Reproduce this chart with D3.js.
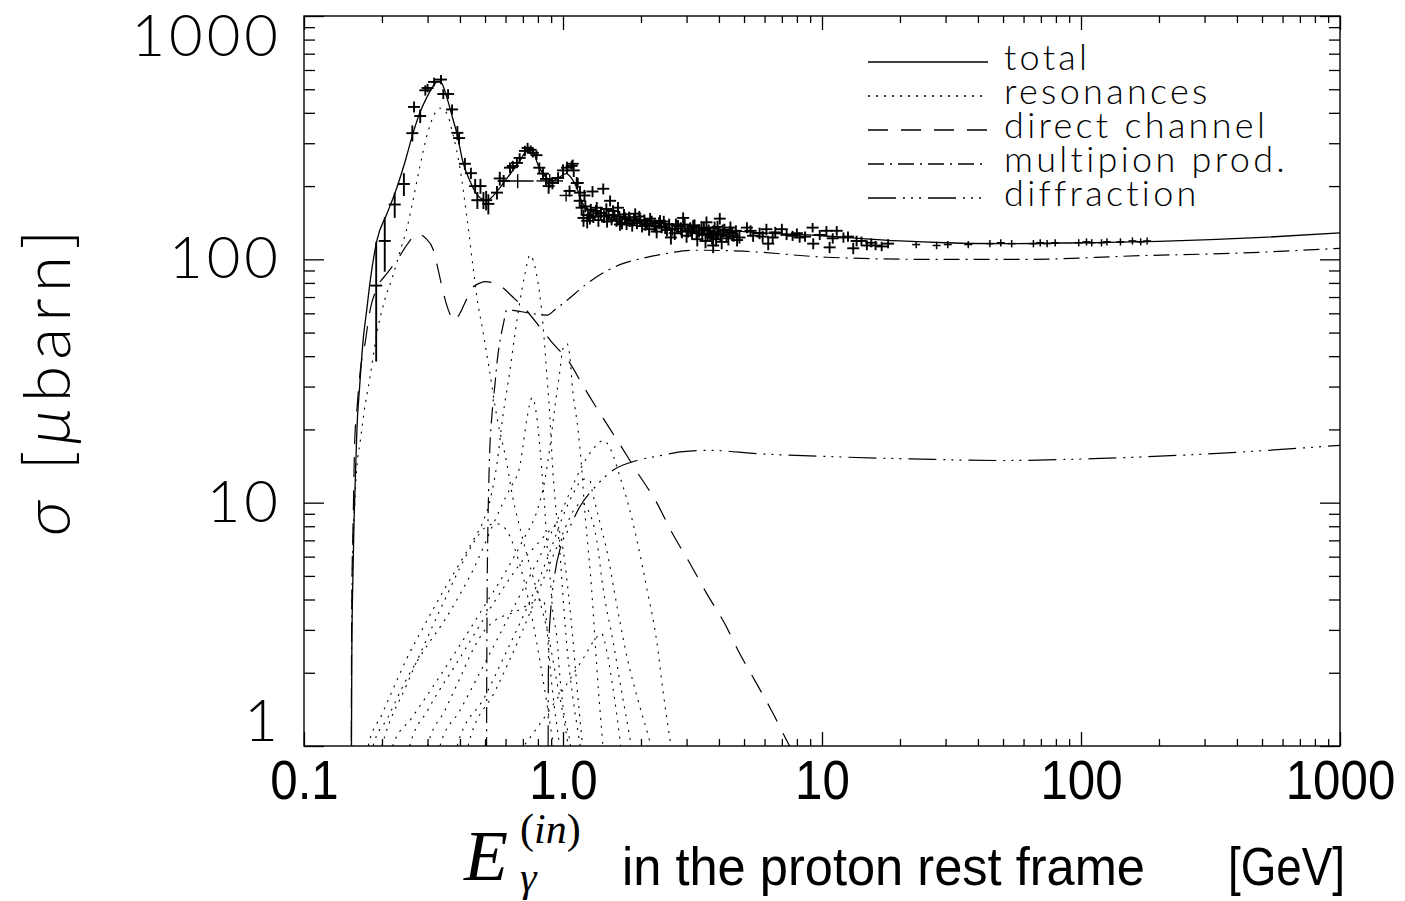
<!DOCTYPE html>
<html>
<head>
<meta charset="utf-8">
<script src="https://cdn.jsdelivr.net/npm/d3@7"></script>
<style>
  body { margin: 0; background: #fff; }
  svg { display: block; }
</style>
</head>
<body>
<svg></svg>
<script>
const width = 1405;
const height = 901;
const plot = {left: 304, right: 1340, top: 16, bottom: 746};

// axis ticks
const xTickValues = [0.1, 1, 10, 100, 1000];
const xTickLabels = ["0.1", "1.0", "10", "100", "1000"];
const yTickValues = [1, 10, 100, 1000];
const yTickLabels = ["1", "10", "100", "1000"];

const legendNames = ["total", "resonances", "direct channel", "multipion prod.", "diffraction"];

// model curves: [E_gamma (GeV), sigma (microbarn)]
const totalCurve = [
    [0.1521, 0.3], [0.1525, 1], [0.153, 2.5], [0.1545, 5], [0.156, 8.3], [0.158, 13], [0.160, 19.8],
    [0.164, 30], [0.169, 46], [0.175, 63], [0.180, 81], [0.191, 119], [0.209, 154], [0.224, 186],
    [0.245, 250], [0.263, 327], [0.280, 400], [0.298, 463], [0.320, 527], [0.330, 540], [0.340, 530],
    [0.356, 463], [0.375, 380], [0.390, 327], [0.410, 253], [0.437, 210], [0.478, 179], [0.510, 175],
    [0.556, 190], [0.607, 215], [0.680, 253], [0.730, 282], [0.760, 283], [0.800, 245], [0.870, 215],
    [0.910, 210], [0.970, 218], [1.030, 225], [1.080, 215], [1.130, 197], [1.190, 170], [1.300, 156],
    [1.5, 149], [2.0, 144], [3.0, 137], [5.0, 130], [10, 125], [20, 119], [30, 117], [50, 116],
    [100, 117], [200, 118.5], [500, 123], [1000, 128.5]
];

const directCurve = [
    [0.1521, 0.3], [0.1525, 2], [0.153, 4], [0.155, 9], [0.157, 18], [0.160, 24], [0.165, 35],
    [0.172, 45], [0.180, 62], [0.190, 75], [0.210, 88], [0.230, 100], [0.250, 115], [0.275, 127],
    [0.295, 122], [0.315, 110], [0.330, 90], [0.345, 73], [0.365, 60], [0.380, 56], [0.400, 60],
    [0.420, 67], [0.445, 76], [0.480, 80], [0.500, 81], [0.540, 80], [0.570, 78], [0.640, 70],
    [0.710, 63], [0.810, 53], [0.900, 46], [1.06, 37.6], [1.2, 30], [1.4, 23], [1.65, 17.5],
    [1.93, 13.4], [2.3, 10], [2.64, 7.5], [3.1, 5.6], [3.58, 4.25], [4.2, 3.2], [4.81, 2.4],
    [5.6, 1.8], [6.45, 1.37], [7.5, 1.0], [8.5, 0.8]
];

const multipionCurve = [
    [0.5065, 0.3], [0.507, 1], [0.509, 3.5], [0.512, 7], [0.516, 11], [0.522, 17], [0.530, 22],
    [0.545, 30], [0.560, 40], [0.575, 48], [0.590, 55], [0.607, 62], [0.650, 61.6], [0.750, 60],
    [0.870, 59], [0.930, 62], [1.03, 67.5], [1.23, 79], [1.43, 88], [1.70, 96], [2.03, 101],
    [2.43, 105], [3.17, 109], [4.95, 108], [10.4, 102], [25.4, 100], [63, 100], [168, 103.5],
    [400, 106], [1000, 111]
];

const diffractionCurve = [
    [0.874, 0.3], [0.876, 1], [0.880, 2.5], [0.900, 3.8], [0.930, 5.1], [0.980, 6.6], [1.06, 7.9],
    [1.16, 9.6], [1.35, 11.8], [1.56, 13.6], [1.93, 14.9], [2.37, 15.6], [2.91, 16.2], [3.7, 16.4],
    [5.6, 15.9], [10, 15.5], [24, 15.1], [48, 14.9], [119, 15.2], [287, 15.8], [1000, 17.2]
];

// single resonances
const resP33_1232 = [
    [0.1522, 0.3], [0.1528, 3], [0.154, 6], [0.157, 10], [0.160, 14], [0.165, 18], [0.170, 23],
    [0.180, 33], [0.190, 48], [0.205, 68], [0.220, 85], [0.235, 108], [0.250, 135], [0.265, 180],
    [0.280, 240], [0.300, 330], [0.320, 398], [0.335, 418], [0.355, 400], [0.375, 330], [0.400, 238],
    [0.425, 150], [0.450, 92], [0.465, 70], [0.490, 51], [0.520, 35], [0.556, 22.4], [0.607, 14.5],
    [0.640, 10.5], [0.690, 7.5], [0.760, 5.1], [0.800, 4.2], [0.880, 2.8], [0.950, 1.8], [1.02, 1.2],
    [1.08, 0.8]
];
const resD13_1520 = [
    [0.172, 0.8], [0.177, 1], [0.200, 1.35], [0.220, 1.7], [0.250, 2.3], [0.290, 3.1], [0.335, 4.1],
    [0.390, 5.4], [0.450, 7.0], [0.490, 8.3], [0.520, 10], [0.556, 14.5], [0.585, 22.4], [0.624, 35],
    [0.650, 48], [0.680, 66], [0.713, 87], [0.745, 104], [0.790, 87], [0.837, 54], [0.860, 37],
    [0.890, 22.4], [0.910, 14.5], [0.950, 8.2], [0.970, 6.5], [1.00, 4.1], [1.036, 2.55], [1.09, 1.6],
    [1.16, 1.03], [1.20, 0.8]
];
const resS11_1535 = [
    [0.180, 0.8], [0.185, 1], [0.210, 1.3], [0.250, 1.9], [0.300, 2.6], [0.350, 3.3], [0.400, 4.2],
    [0.450, 5.3], [0.500, 6.8], [0.550, 8.6], [0.600, 10.5], [0.640, 12], [0.680, 14], [0.700, 17],
    [0.725, 22], [0.760, 27], [0.790, 23], [0.810, 18], [0.830, 13.2], [0.850, 9.6], [0.865, 7],
    [0.890, 5.1], [0.910, 3.7], [0.950, 2.7], [0.970, 2.0], [1.00, 1.45], [1.06, 1.06], [1.10, 0.8]
];
const resF15_1680 = [
    [0.210, 0.8], [0.220, 1], [0.260, 1.3], [0.320, 1.8], [0.400, 2.6], [0.500, 3.8], [0.600, 5.2],
    [0.700, 7], [0.800, 9.5], [0.850, 12.3], [0.890, 16.9], [0.930, 24.6], [0.970, 34], [1.00, 43],
    [1.036, 45], [1.06, 41], [1.09, 29], [1.14, 20.4], [1.18, 14], [1.21, 9.6], [1.25, 6.5],
    [1.29, 4.4], [1.33, 2.7], [1.37, 1.7], [1.42, 1.06], [1.45, 0.8]
];
const resP11_1440 = [
    [0.190, 0.8], [0.200, 1], [0.250, 1.8], [0.300, 2.8], [0.350, 4.0], [0.400, 5.4], [0.450, 6.8],
    [0.500, 7.9], [0.550, 8.2], [0.600, 7.8], [0.650, 6.5], [0.700, 5.0], [0.750, 3.6], [0.800, 2.5],
    [0.850, 1.7], [0.900, 1.15], [0.950, 0.8]
];
const resS11_1650 = [
    [0.245, 0.8], [0.256, 1], [0.300, 1.4], [0.400, 2.3], [0.500, 3.4], [0.600, 4.6], [0.700, 5.8],
    [0.800, 6.8], [0.880, 7.6], [0.930, 8.0], [0.970, 7.6], [1.01, 6], [1.05, 4.2], [1.09, 2.8],
    [1.13, 1.8], [1.18, 1.1], [1.22, 0.8]
];
const resD33_1700 = [
    [0.290, 0.8], [0.300, 1], [0.350, 1.4], [0.400, 1.9], [0.450, 2.5], [0.500, 3.0], [0.550, 3.3],
    [0.600, 3.45], [0.650, 3.55], [0.700, 3.7], [0.750, 3.85], [0.800, 3.95], [0.840, 4.0], [0.860, 3.4],
    [0.880, 2.5], [0.900, 1.9], [0.930, 1.4], [0.970, 1.0], [1.00, 0.75]
];
const resD15_1675 = [
    [0.380, 0.8], [0.390, 1], [0.500, 1.6], [0.600, 2.4], [0.700, 3.4], [0.800, 4.7], [0.900, 6.5],
    [1.00, 8.8], [1.10, 11], [1.20, 12.5], [1.27, 12.3], [1.30, 11], [1.40, 8], [1.47, 6.5],
    [1.62, 3.7], [1.77, 2.3], [1.98, 1.45], [2.14, 1.09], [2.30, 0.8]
];
const resP13_1720 = [
    [0.420, 0.8], [0.430, 1], [0.550, 1.7], [0.700, 3], [0.850, 5], [1.00, 7.5], [1.10, 9.3],
    [1.18, 10], [1.23, 9.6], [1.35, 7.0], [1.43, 4.4], [1.56, 2.7], [1.68, 1.7], [1.81, 1.09],
    [1.90, 0.8]
];
const resF35_1905 = [
    [0.600, 0.8], [0.800, 1.2], [1.00, 1.7], [1.20, 2.3], [1.35, 2.8], [1.41, 2.9], [1.47, 2.5],
    [1.55, 1.8], [1.62, 1.3], [1.68, 0.95], [1.72, 0.8]
];
const resF37_1950 = [
    [0.330, 0.8], [0.335, 1], [0.400, 1.4], [0.500, 2.2], [0.600, 3.2], [0.700, 4.4], [0.800, 5.8],
    [0.900, 7.5], [1.00, 9.5], [1.10, 12], [1.20, 14.5], [1.30, 16.5], [1.43, 18], [1.55, 16],
    [1.65, 13], [1.77, 10.2], [1.93, 7.0], [2.11, 4.4], [2.30, 2.7], [2.43, 1.7], [2.58, 1.09],
    [2.70, 0.8]
];
const resonanceCurves = [resP33_1232, resD13_1520, resS11_1535, resF15_1680, resP11_1440,
    resS11_1650, resD33_1700, resD15_1675, resP13_1720, resF35_1905, resF37_1950];

// measured total cross section: [E, sigma, error]
const dataPoints = [
    [0.190, 78, 40], [0.205, 119, 30], [0.224, 168, 20], [0.243, 204, 22], [0.262, 330, 25],
    [0.266, 423, 22], [0.281, 388, 25], [0.294, 495, 24], [0.300, 506, 20], [0.318, 536, 22],
    [0.338, 548, 24], [0.345, 478, 22], [0.360, 478, 22], [0.373, 413, 20], [0.391, 331, 22],
    [0.397, 315, 18], [0.418, 247, 14], [0.441, 226, 12], [0.458, 200, 14], [0.467, 175, 14],
    [0.480, 200, 14], [0.493, 175, 14], [0.505, 175, 16], [0.515, 169, 16], [0.556, 188, 12],
    [0.570, 215, 14], [0.590, 210, 12], [0.624, 238, 12], [0.640, 242, 12], [0.664, 249, 12],
    [0.680, 261, 12], [0.713, 279, 14], [0.730, 287, 14], [0.750, 282, 12], [0.765, 274, 12],
    [0.790, 268, 12], [0.810, 238, 12], [0.837, 225, 12], [0.860, 214, 12], [0.880, 200, 14],
    [0.910, 206, 12], [0.957, 216, 12], [1.000, 232, 14], [1.036, 238, 14], [1.080, 242, 12],
    [1.100, 232, 14], [1.130, 206, 12], [1.163, 188, 12], [1.180, 163, 12], [1.200, 148, 12],
    [1.240, 144, 10], [1.09, 247, 10], [1.14, 206, 10], [1.06, 191, 10], [1.16, 174, 10],
    [1.21, 183, 10], [1.27, 148, 9], [1.30, 190, 10], [1.35, 163, 9], [1.43, 195, 10],
    [1.47, 161, 9], [1.52, 174, 9], [1.56, 158, 9], [1.63, 163, 9], [1.66, 139, 8],
    [1.74, 148, 8], [1.81, 144, 8], [1.90, 154, 8], [1.99, 144, 8], [2.08, 139, 8],
    [2.17, 147, 8], [2.27, 137, 8], [2.37, 144, 8], [2.48, 135, 8], [2.61, 123, 8],
    [2.73, 139, 8], [2.85, 134, 8], [2.91, 148, 8], [3.04, 131, 8], [3.18, 137, 8],
    [3.28, 128, 8], [3.43, 135, 8], [3.58, 142, 8], [3.62, 128, 8], [3.76, 123, 8],
    [3.80, 114, 8], [3.85, 135, 8], [3.97, 128, 8], [4.03, 147, 8], [4.14, 131, 8],
    [4.28, 125, 8], [4.43, 135, 8], [4.50, 128, 8], [4.80, 123, 7], [5.13, 135, 7],
    [1.22, 165, 9], [1.25, 152, 9], [1.28, 160, 9], [1.31, 150, 9], [1.34, 158, 9],
    [1.37, 145, 9], [1.40, 155, 9], [1.44, 150, 9], [1.48, 143, 8], [1.50, 152, 8],
    [1.54, 146, 8], [1.58, 152, 8], [1.61, 144, 8], [1.65, 150, 8], [1.69, 141, 8],
    [1.72, 153, 8], [1.76, 140, 8], [1.80, 149, 8], [1.85, 138, 8], [1.88, 146, 8],
    [1.93, 141, 8], [1.97, 150, 8], [2.02, 137, 8], [2.06, 145, 8], [2.11, 140, 8],
    [2.15, 133, 8], [2.20, 143, 8], [2.25, 138, 8], [2.30, 130, 8], [2.35, 141, 8],
    [2.40, 136, 8], [2.45, 143, 8], [2.52, 132, 8], [2.57, 139, 8], [2.64, 133, 8],
    [2.70, 128, 8], [2.78, 137, 8], [2.88, 130, 8], [2.95, 139, 8], [3.00, 125, 8],
    [3.10, 134, 8], [3.15, 129, 8], [3.22, 138, 8], [3.30, 121, 8], [3.35, 131, 8],
    [3.45, 126, 8], [3.50, 133, 8], [3.55, 119, 8], [3.65, 131, 8], [3.70, 126, 8],
    [3.82, 130, 8], [3.90, 121, 8], [3.95, 136, 8], [4.05, 126, 8], [4.10, 118, 8],
    [4.20, 132, 8], [4.35, 122, 8], [4.40, 129, 8], [4.55, 125, 7], [4.65, 131, 7],
    [4.70, 120, 7], [5.30, 131, 7], [5.42, 125, 7], [5.74, 128, 7], [5.90, 124, 7],
    [6.10, 133, 7], [6.20, 116, 7], [6.45, 123, 7], [6.60, 129, 7], [7.00, 133, 7],
    [7.30, 126, 6], [7.70, 125, 6], [8.00, 128, 6], [8.20, 123, 6], [8.60, 124, 6],
    [9.20, 135, 6], [9.25, 116, 6], [9.80, 126, 6], [10.4, 131, 6], [10.7, 112, 6],
    [11.0, 122, 6], [11.4, 131, 6], [12.1, 123, 6], [12.6, 124, 6], [13.2, 111, 6],
    [13.6, 119, 6], [14.2, 119, 5], [14.9, 114, 5], [15.5, 117, 5], [16.1, 114, 5],
    [17.0, 113, 5], [18.0, 116, 5], [23.1, 115, 4], [27.7, 114, 4], [30.6, 115, 4],
    [36.7, 115, 4], [44.5, 116, 4], [49.0, 117, 4], [54.0, 116, 4], [65.5, 116, 4],
    [69.6, 117, 4], [74.0, 116, 4], [79.5, 117, 4], [98.0, 117, 4], [105, 118, 4],
    [110, 117, 4], [120, 117, 4], [126, 118, 4], [142, 118, 4], [158, 119, 4],
    [170, 118, 4], [180, 119, 4]
];

// wide-bin measurements: [E low, E high, sigma, error]
const wideBinPoints = [
    [0.58, 0.77, 210, 14],
    [0.79, 1.00, 210, 14],
    [0.97, 1.09, 183, 10]
];

const dashStyles = {
    "total": null,
    "resonances": "2,6",
    "direct channel": "20,13",
    "multipion prod.": "16,6,2,6",
    "diffraction": "28,7,2,6,2,6,2,7"
};

const svg = d3.select("svg")
    .attr("width", width)
    .attr("height", height)
    .attr("viewBox", `0 0 ${width} ${height}`);

const x = d3.scaleLog().domain([0.1, 1000]).range([plot.left, plot.right]);
const y = d3.scaleLog().domain([1, 1000]).range([plot.bottom, plot.top]);

const xMinor = [0.1, 1, 10, 100].flatMap(d => d3.range(2, 10).map(k => k * d));
const yMinor = [1, 10, 100].flatMap(d => d3.range(2, 10).map(k => k * d));

const thinFont = "Lato, 'Noto Sans', sans-serif";
const helvetica = "'Liberation Sans', Arial, sans-serif";
const serif = "'Liberation Serif', 'DejaVu Serif', serif";

// minor and major ticks on all four sides
function addTicks(axisFn, scale, transform, values, size) {
    svg.append("g")
        .attr("transform", transform)
        .call(axisFn(scale).tickValues(values).tickSizeInner(-size).tickSizeOuter(0).tickFormat(""))
        .call(g => g.select(".domain").remove())
        .call(g => g.selectAll("line").attr("stroke-width", 1.3));
}
addTicks(d3.axisBottom, x, `translate(0,${plot.bottom})`, xMinor, 7);
addTicks(d3.axisTop, x, `translate(0,${plot.top})`, xMinor, 7);
addTicks(d3.axisTop, x, `translate(0,${plot.top})`, xTickValues, 14);
addTicks(d3.axisLeft, y, `translate(${plot.left},0)`, yMinor, 11);
addTicks(d3.axisRight, y, `translate(${plot.right},0)`, yMinor, 11);
addTicks(d3.axisRight, y, `translate(${plot.right},0)`, yTickValues, 20);

// labelled axes
svg.append("g")
    .attr("transform", `translate(0,${plot.bottom})`)
    .call(d3.axisBottom(x).tickValues(xTickValues).tickFormat((d, i) => xTickLabels[i])
        .tickSizeInner(-14).tickSizeOuter(0).tickPadding(13))
    .call(g => g.select(".domain").remove())
    .call(g => g.selectAll("line").attr("stroke-width", 1.3))
    .call(g => g.selectAll("text")
        .attr("font-family", helvetica)
        .attr("font-size", 56)
        .attr("fill", "#000")
        .attr("textLength", function() { return this.getComputedTextLength() * 0.88; })
        .attr("lengthAdjust", "spacingAndGlyphs"));

svg.append("g")
    .attr("transform", `translate(${plot.left},0)`)
    .call(d3.axisLeft(y).tickValues(yTickValues).tickFormat((d, i) => yTickLabels[i])
        .tickSizeInner(-20).tickSizeOuter(0).tickPadding(22))
    .call(g => g.select(".domain").remove())
    .call(g => g.selectAll("line").attr("stroke-width", 1.3))
    .call(g => g.selectAll("text")
        .attr("font-family", thinFont)
        .attr("font-weight", 300)
        .attr("font-size", 58)
        .attr("letter-spacing", 4)
        .attr("fill", "#000")
        .attr("y", d => Math.min(Math.max(y(d), plot.top + 21), plot.bottom - 24) - y(d)));

// frame
svg.append("rect")
    .attr("x", plot.left)
    .attr("y", plot.top)
    .attr("width", plot.right - plot.left)
    .attr("height", plot.bottom - plot.top)
    .attr("fill", "none")
    .attr("stroke", "#000")
    .attr("stroke-width", 1.4);

svg.append("clipPath")
    .attr("id", "plot-clip")
    .append("rect")
    .attr("x", plot.left)
    .attr("y", plot.top)
    .attr("width", plot.right - plot.left)
    .attr("height", plot.bottom - plot.top);

const line = d3.line()
    .x(d => x(d[0]))
    .y(d => y(d[1]))
    .curve(d3.curveMonotoneX);

const curves = svg.append("g").attr("clip-path", "url(#plot-clip)");

curves.selectAll(".resonance")
    .data(resonanceCurves)
    .enter().append("path")
    .attr("class", "resonance")
    .attr("d", line)
    .attr("fill", "none")
    .attr("stroke", "#000")
    .attr("stroke-width", 1.1)
    .attr("stroke-dasharray", dashStyles["resonances"]);

const mainCurves = [
    {name: "direct channel", values: directCurve},
    {name: "multipion prod.", values: multipionCurve},
    {name: "diffraction", values: diffractionCurve},
    {name: "total", values: totalCurve}
];

curves.selectAll(".model")
    .data(mainCurves)
    .enter().append("path")
    .attr("class", "model")
    .attr("d", d => line(d.values))
    .attr("fill", "none")
    .attr("stroke", "#000")
    .attr("stroke-width", d => d.name === "total" ? 1.3 : 1.2)
    .attr("stroke-dasharray", d => dashStyles[d.name]);

// data crosses
const cross = curves.selectAll(".datum")
    .data(dataPoints)
    .enter().append("g")
    .attr("class", "datum")
    .attr("stroke", "#000")
    .attr("stroke-width", d => d[0] > 20 ? 1.5 : 1.9);

cross.append("line")
    .attr("x1", d => x(d[0]) - (d[0] > 20 ? 4 : 6))
    .attr("x2", d => x(d[0]) + (d[0] > 20 ? 4 : 6))
    .attr("y1", d => y(d[1]))
    .attr("y2", d => y(d[1]));

cross.append("line")
    .attr("x1", d => x(d[0]))
    .attr("x2", d => x(d[0]))
    .attr("y1", d => y(d[1] - d[2]))
    .attr("y2", d => y(d[1] + d[2]));

const wide = curves.selectAll(".wide-bin")
    .data(wideBinPoints)
    .enter().append("g")
    .attr("class", "wide-bin")
    .attr("stroke", "#000")
    .attr("stroke-width", 1.4);

wide.append("line")
    .attr("x1", d => x(d[0]))
    .attr("x2", d => x(d[1]))
    .attr("y1", d => y(d[2]))
    .attr("y2", d => y(d[2]));

wide.append("line")
    .attr("x1", d => x(Math.sqrt(d[0] * d[1])))
    .attr("x2", d => x(Math.sqrt(d[0] * d[1])))
    .attr("y1", d => y(d[2] - d[3]))
    .attr("y2", d => y(d[2] + d[3]));

// legend
const legend = svg.append("g")
    .attr("id", "legend")
    .attr("transform", "translate(868, 62)");

const legendItem = legend.selectAll(".legend-item")
    .data(legendNames)
    .enter().append("g")
    .attr("class", "legend-item")
    .attr("transform", (d, i) => `translate(0, ${i * 34})`);

legendItem.append("line")
    .attr("x1", 0)
    .attr("x2", 120)
    .attr("stroke", "#000")
    .attr("stroke-width", 1.3)
    .attr("stroke-dasharray", d => dashStyles[d]);

legendItem.append("text")
    .attr("x", 136)
    .attr("y", 8)
    .attr("font-family", thinFont)
    .attr("font-weight", 300)
    .attr("font-size", 36)
    .attr("letter-spacing", 3.3)
    .text(d => d);

// y-axis title
const yTitle = svg.append("text")
    .attr("transform", "translate(70, 383) rotate(-90)")
    .attr("text-anchor", "middle")
    .attr("font-family", thinFont)
    .attr("font-weight", 300)
    .attr("font-size", 66)
    .attr("textLength", 306)
    .attr("lengthAdjust", "spacing");
yTitle.append("tspan").attr("font-style", "italic").text("σ");
yTitle.append("tspan").text(" [");
yTitle.append("tspan").attr("font-style", "italic").text("μ");
yTitle.append("tspan").text("barn]");

// x-axis title
const xTitle = svg.append("g");
xTitle.append("text")
    .attr("x", 464)
    .attr("y", 880)
    .attr("font-family", serif)
    .attr("font-style", "italic")
    .attr("font-size", 72)
    .text("E");
xTitle.append("text")
    .attr("x", 520)
    .attr("y", 891)
    .attr("font-family", serif)
    .attr("font-style", "italic")
    .attr("font-size", 42)
    .text("γ");
const sup = xTitle.append("text")
    .attr("x", 520)
    .attr("y", 843)
    .attr("font-family", serif)
    .attr("font-size", 42);
sup.append("tspan").text("(");
sup.append("tspan").attr("font-style", "italic").text("in");
sup.append("tspan").text(")");

xTitle.append("text")
    .attr("x", 622)
    .attr("y", 885)
    .attr("font-family", helvetica)
    .attr("font-size", 54)
    .attr("textLength", 523)
    .attr("lengthAdjust", "spacingAndGlyphs")
    .text("in  the proton rest  frame");
xTitle.append("text")
    .attr("x", 1228)
    .attr("y", 885)
    .attr("font-family", helvetica)
    .attr("font-size", 54)
    .attr("textLength", 117)
    .attr("lengthAdjust", "spacingAndGlyphs")
    .text("[GeV]");
</script>
</body>
</html>
